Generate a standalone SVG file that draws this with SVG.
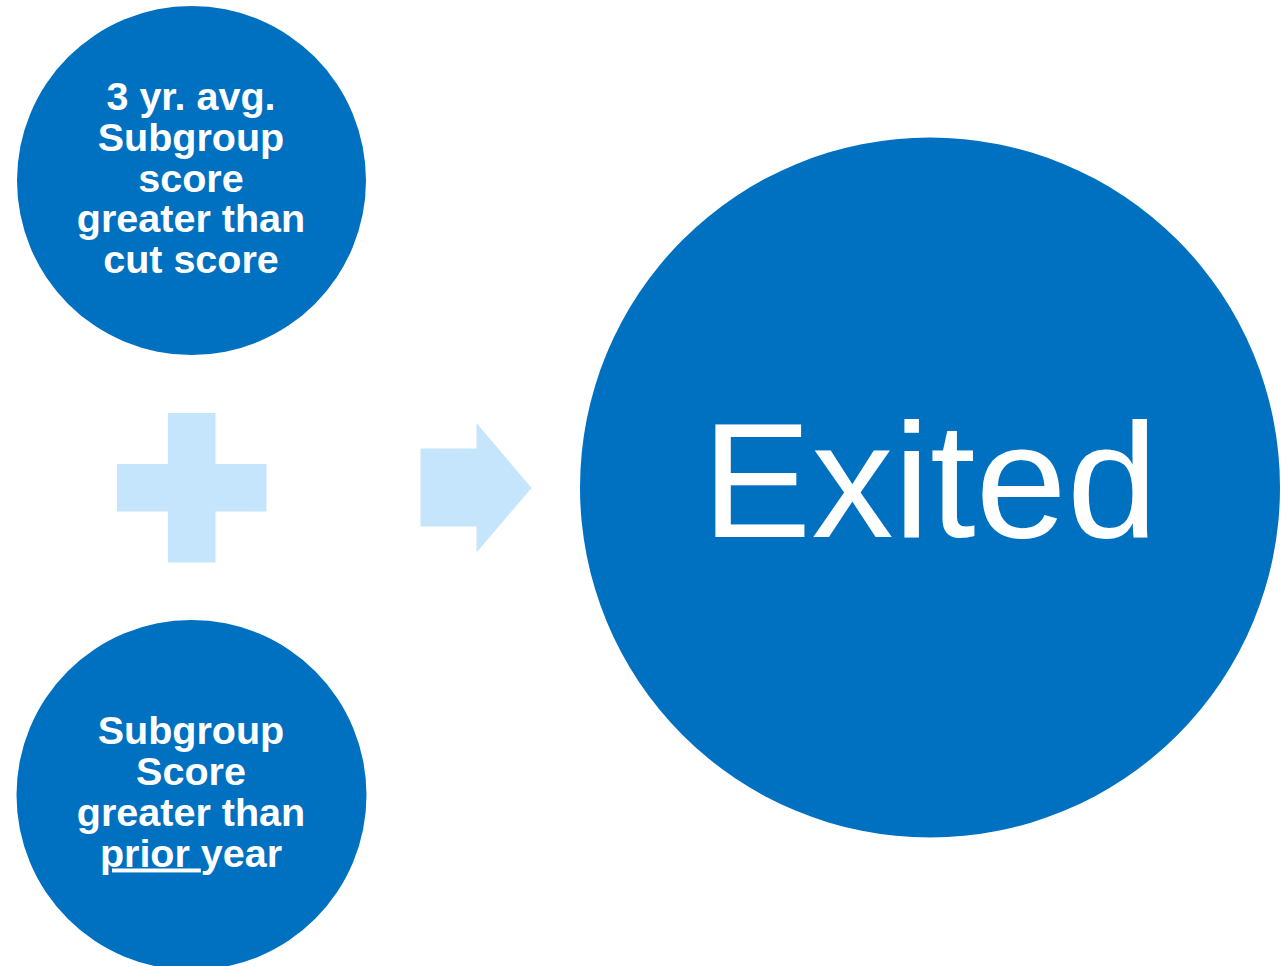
<svg xmlns="http://www.w3.org/2000/svg" width="1288" height="966" viewBox="0 0 1288 966">
  <style>
    .node { fill: #0070C0; }
    .sym { fill: #C5E5FC; }
    .lbl { font-family: "Liberation Sans", Arial, sans-serif; font-weight: bold; font-size: 39.5px; fill: #FFFFFF; text-anchor: middle; }
    .big { font-family: "Liberation Sans", Arial, sans-serif; font-size: 164px; fill: #FFFFFF; text-anchor: middle; }
  </style>
  <rect width="1288" height="966" fill="#FFFFFF"/>
  <g id="node-cut-score">
    <circle class="node" cx="191.5" cy="180.5" r="174.5"/>
    <text class="lbl"><tspan x="191" y="109.5">3 yr. avg.</tspan><tspan x="191" y="150.5">Subgroup</tspan><tspan x="191" y="191.5">score</tspan><tspan x="191" y="232">greater than</tspan><tspan x="191" y="273">cut score</tspan></text>
  </g>
  <g id="node-prior-year">
    <circle class="node" cx="191.5" cy="795" r="175"/>
    <text class="lbl"><tspan x="191" y="743.5">Subgroup</tspan><tspan x="191" y="784.5">Score</tspan><tspan x="191" y="825.5">greater than</tspan><tspan x="191" y="866.5"><tspan text-decoration="underline">prior </tspan>year</tspan></text>
  </g>
  <g id="node-exited">
    <circle class="node" cx="930" cy="487.5" r="350"/>
    <text class="big" x="930" y="537">Exited</text>
  </g>
  <g id="connectors">
    <path id="plus" class="sym" d="M168,413 H215.5 V464 H266.5 V511.5 H215.5 V562.5 H168 V511.5 H117 V464 H168 Z"/>
    <path id="arrow" class="sym" d="M420.5,448.5 H476.5 V423 L531.5,488 L476.5,552.5 V526.5 H420.5 Z"/>
  </g>
</svg>
